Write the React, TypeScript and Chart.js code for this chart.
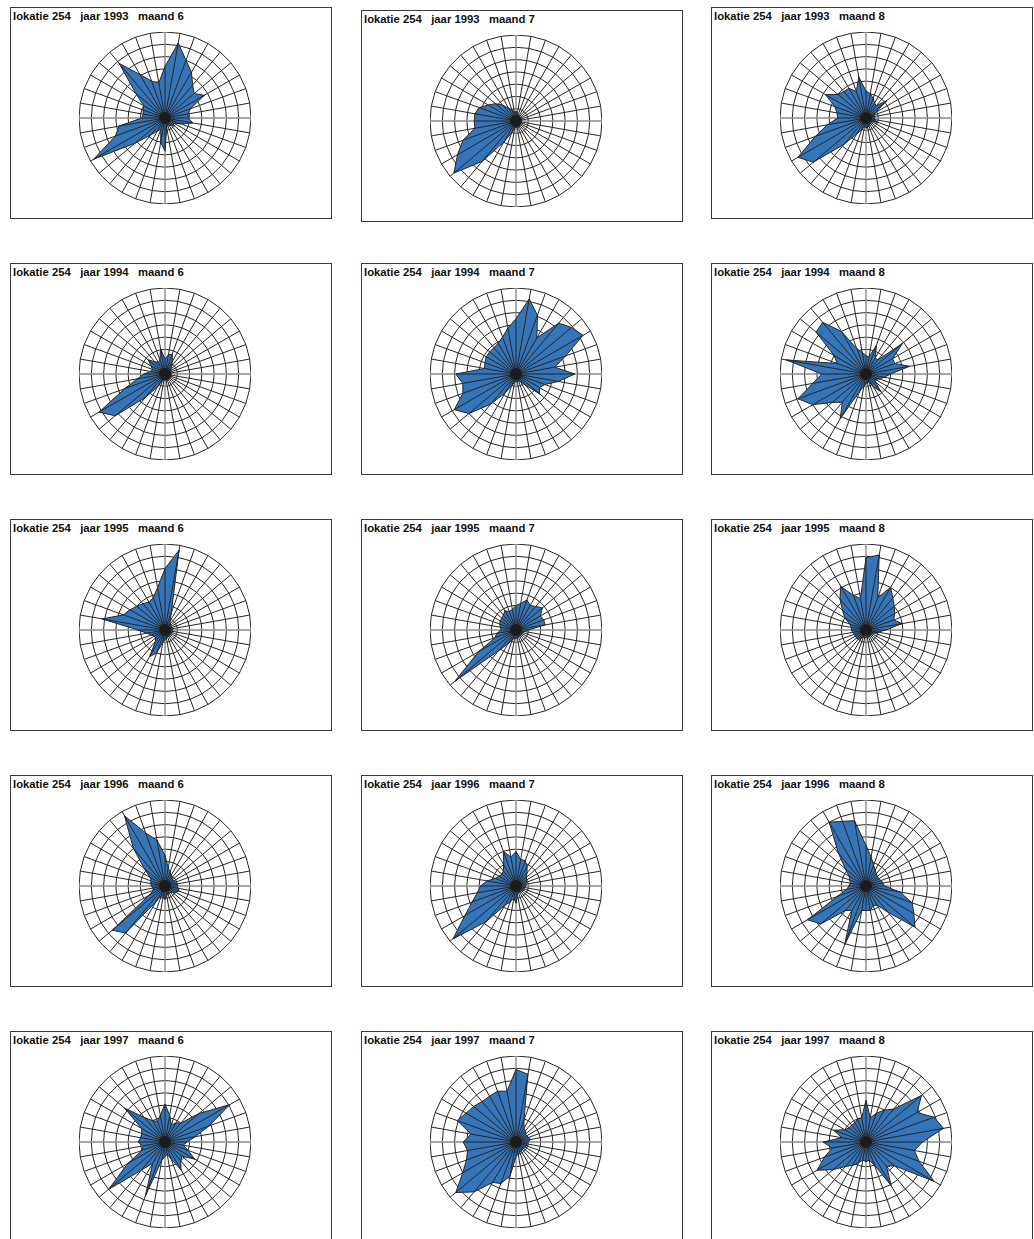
import React, { useEffect, useRef } from 'react';
import { Chart, registerables } from 'chart.js';

Chart.register(...registerables);

// ---------- data ----------
const locationId = 254;
const years = [1993, 1994, 1995, 1996, 1997];
const months = [6, 7, 8];
const directions = [
  '0', '10', '20', '30', '40', '50', '60', '70', '80', '90', '100', '110',
  '120', '130', '140', '150', '160', '170', '180', '190', '200', '210', '220', '230',
  '240', '250', '260', '270', '280', '290', '300', '310', '320', '330', '340', '350',
];

const y1993m6 = [4.2, 6.2, 5.0, 4.3, 3.5, 3.1, 3.7, 2.2, 1.9, 1.9, 2.3, 1.4, 0.8, 0.9, 0.8, 0.7, 0.6, 0.8, 2.7, 2.0, 1.0, 1.2, 1.8, 3.2, 6.7, 4.3, 3.8, 1.9, 1.8, 1.9, 2.0, 3.1, 5.8, 4.1, 3.2, 2.9];
const y1993m7 = [0.8, 0.6, 0.5, 0.5, 0.4, 0.4, 0.4, 0.4, 0.4, 0.4, 0.4, 0.4, 0.4, 0.4, 0.4, 0.5, 0.5, 0.5, 0.5, 0.6, 1.0, 2.0, 4.3, 6.6, 5.5, 4.6, 3.4, 3.4, 3.4, 3.2, 2.6, 2.2, 1.7, 1.2, 1.0, 0.7];
const y1993m8 = [2.2, 2.0, 1.7, 1.4, 1.3, 2.2, 0.9, 0.7, 0.7, 0.7, 0.7, 1.0, 0.6, 0.6, 0.6, 0.6, 0.7, 0.8, 0.8, 0.7, 1.0, 1.5, 2.8, 5.6, 6.4, 4.4, 3.2, 2.3, 2.4, 2.7, 3.8, 3.0, 2.8, 2.8, 2.3, 3.4];
const y1994m6 = [1.2, 1.6, 1.7, 1.2, 0.8, 0.7, 0.5, 0.5, 0.5, 0.5, 0.5, 0.5, 0.5, 0.5, 0.5, 0.5, 0.5, 0.5, 0.5, 0.5, 0.5, 1.2, 2.5, 5.3, 6.2, 3.5, 2.3, 1.7, 1.2, 1.1, 1.3, 1.8, 1.3, 1.1, 1.2, 2.1];
const y1994m7 = [4.5, 6.2, 5.1, 3.4, 5.4, 5.9, 6.3, 4.3, 3.2, 4.8, 3.5, 2.5, 2.2, 2.5, 1.2, 0.7, 0.6, 0.6, 0.6, 0.7, 1.0, 1.8, 3.2, 5.0, 5.8, 4.6, 4.4, 4.9, 2.6, 2.7, 2.8, 2.8, 2.8, 2.9, 3.2, 3.8];
const y1994m8 = [1.5, 1.4, 2.5, 1.5, 1.5, 3.9, 2.5, 2.5, 3.6, 2.0, 1.5, 1.2, 0.8, 1.0, 1.9, 1.2, 0.7, 0.7, 0.8, 1.0, 1.5, 4.2, 3.0, 3.6, 5.0, 5.9, 4.4, 3.6, 6.6, 2.5, 3.0, 5.3, 5.5, 4.0, 2.2, 1.8];
const y1995m6 = [5.0, 6.6, 1.5, 0.8, 0.7, 0.6, 0.6, 0.6, 0.6, 0.6, 0.6, 0.6, 0.6, 0.6, 0.6, 0.6, 0.6, 0.6, 0.8, 1.0, 2.0, 2.5, 1.2, 1.0, 1.0, 1.2, 1.5, 2.2, 5.2, 3.6, 3.3, 3.0, 2.8, 2.6, 2.8, 3.5];
const y1995m7 = [2.0, 2.2, 2.6, 2.3, 2.5, 2.8, 2.3, 2.4, 2.4, 1.0, 0.7, 0.6, 0.6, 0.6, 0.6, 0.6, 0.6, 0.6, 0.7, 0.7, 0.8, 1.3, 2.2, 6.5, 3.5, 1.8, 1.6, 1.2, 1.3, 1.4, 1.5, 1.5, 1.6, 1.8, 1.6, 1.7];
const y1995m8 = [5.9, 6.2, 2.8, 4.0, 3.4, 3.0, 2.7, 2.4, 3.0, 1.6, 1.0, 0.7, 0.6, 0.6, 0.6, 0.6, 0.6, 0.6, 0.6, 0.6, 0.6, 0.8, 1.0, 1.0, 1.0, 1.0, 1.1, 1.2, 1.2, 1.4, 2.0, 2.5, 3.3, 4.1, 3.0, 2.6];
const y1996m6 = [2.5, 1.5, 1.2, 1.0, 0.9, 0.8, 0.8, 0.9, 1.0, 1.0, 1.1, 1.2, 1.0, 0.8, 0.7, 0.7, 0.7, 0.8, 1.1, 0.9, 0.8, 1.5, 5.0, 5.6, 1.5, 1.0, 1.0, 1.1, 1.2, 1.2, 1.4, 2.2, 4.0, 6.6, 4.6, 3.8];
const y1996m7 = [2.8, 2.2, 2.2, 1.8, 1.4, 1.1, 1.0, 0.9, 0.8, 0.8, 0.7, 0.7, 0.7, 0.6, 0.6, 0.6, 0.6, 0.7, 1.4, 1.0, 1.4, 1.8, 3.8, 6.7, 4.8, 3.8, 3.2, 2.9, 2.4, 1.8, 1.6, 1.5, 1.6, 2.0, 3.0, 2.4];
const y1996m8 = [3.3, 2.4, 1.8, 1.5, 1.3, 1.2, 1.2, 1.3, 1.4, 1.5, 2.8, 4.0, 4.5, 5.2, 2.8, 1.8, 1.7, 2.0, 2.0, 2.0, 5.1, 2.3, 2.6, 4.8, 5.5, 2.5, 1.6, 1.4, 1.3, 1.4, 1.6, 2.2, 3.5, 6.0, 5.6, 5.4];
const y1997m6 = [3.1, 2.2, 1.5, 1.8, 2.0, 3.6, 6.1, 3.8, 2.5, 1.8, 1.5, 2.0, 2.8, 1.8, 2.0, 2.6, 1.5, 1.0, 1.2, 1.5, 4.7, 2.0, 3.0, 6.0, 3.5, 2.0, 1.8, 2.2, 2.0, 2.0, 2.2, 4.3, 2.6, 2.0, 1.8, 2.2];
const y1997m7 = [5.9, 5.6, 1.9, 1.3, 1.2, 1.0, 1.0, 1.1, 1.2, 1.0, 0.9, 0.9, 0.8, 0.8, 0.8, 0.8, 0.9, 1.0, 1.2, 2.8, 3.6, 3.8, 5.3, 6.4, 5.0, 4.3, 4.0, 4.3, 3.7, 5.1, 4.7, 4.5, 4.3, 4.3, 4.4, 4.2];
const y1997m8 = [3.4, 2.0, 2.5, 3.0, 3.5, 5.9, 4.8, 5.9, 6.4, 4.6, 4.0, 4.6, 6.4, 3.0, 2.6, 4.1, 2.0, 1.5, 1.6, 1.5, 1.8, 2.2, 2.6, 3.5, 4.6, 3.6, 2.8, 3.5, 2.0, 2.8, 2.0, 1.8, 1.8, 1.8, 2.0, 2.0];

const seriesGrid = [
  [y1993m6, y1993m7, y1993m8],
  [y1994m6, y1994m7, y1994m8],
  [y1995m6, y1995m7, y1995m8],
  [y1996m6, y1996m7, y1996m8],
  [y1997m6, y1997m7, y1997m8],
];

// ---------- layout / style ----------
const BLUE = 'rgb(52,117,186)';
const DARK = '#262626';
const AXIS = '#8a8a8a';
const colLefts = [10, 361, 711];
const rowTops = [7, 263, 519, 775, 1031];
const PANEL_W = 322;
const PANEL_H = 212;
const CANVAS = 172;

const spokePlugin = {
  id: 'spokes',
  afterDatasetsDraw(chart: any) {
    const scale = chart.scales.r;
    const meta = chart.getDatasetMeta(0);
    const ctx = chart.ctx;
    ctx.save();
    ctx.strokeStyle = DARK;
    ctx.lineWidth = 1;
    ctx.beginPath();
    meta.data.forEach((pt: any) => {
      ctx.moveTo(scale.xCenter, scale.yCenter);
      ctx.lineTo(pt.x, pt.y);
    });
    ctx.stroke();
    ctx.beginPath();
    ctx.arc(scale.xCenter, scale.yCenter, 6, 0, Math.PI * 2);
    ctx.fillStyle = '#1c1c1c';
    ctx.fill();
    ctx.restore();
  },
};

function RadarPanel({ values, title, left, top }: { values: number[]; title: string; left: number; top: number }) {
  const ref = useRef<HTMLCanvasElement>(null);
  useEffect(() => {
    const chart = new Chart(ref.current as HTMLCanvasElement, {
      type: 'radar',
      data: {
        labels: directions,
        datasets: [
          {
            data: values,
            backgroundColor: BLUE,
            borderColor: DARK,
            borderWidth: 1,
            pointRadius: 0,
            pointHoverRadius: 0,
            fill: true,
          },
        ],
      },
      options: {
        responsive: false,
        animation: false,
        events: [],
        layout: { padding: 0 },
        plugins: {
          legend: { display: false },
          tooltip: { enabled: false },
          title: { display: false },
        },
        scales: {
          r: {
            min: 0,
            max: 7,
            ticks: { display: false, stepSize: 1 },
            pointLabels: { display: false },
            grid: { circular: false, color: DARK, lineWidth: 1 },
            angleLines: {
              display: true,
              color: (c: any) => (c.index % 9 === 0 ? AXIS : DARK),
              lineWidth: (c: any) => (c.index % 9 === 0 ? 1.4 : 1),
            },
          },
        },
      } as any,
      plugins: [spokePlugin],
    });
    return () => chart.destroy();
  }, [values]);

  return (
    <div
      style={{
        position: 'absolute',
        left,
        top,
        width: PANEL_W,
        height: PANEL_H,
        boxSizing: 'border-box',
        border: '1px solid #3a3a3a',
        background: '#fff',
      }}
    >
      <div
        style={{
          position: 'absolute',
          left: 2,
          top: 2,
          font: 'bold 11.3px "Liberation Sans", Arial, sans-serif',
          lineHeight: '13px',
          color: '#111',
          whiteSpace: 'pre',
        }}
      >
        {title}
      </div>
      <canvas
        ref={ref}
        width={CANVAS}
        height={CANVAS}
        style={{ position: 'absolute', left: 68, top: 24, width: CANVAS, height: CANVAS }}
      />
    </div>
  );
}

export default function App() {
  const panels: React.ReactNode[] = [];
  years.forEach((yr, r) => {
    months.forEach((mo, c) => {
      const top = rowTops[r] + (r === 0 && c === 1 ? 3 : 0);
      panels.push(
        <RadarPanel
          key={`${yr}-${mo}`}
          values={seriesGrid[r][c]}
          title={`lokatie ${locationId}   jaar ${yr}   maand ${mo}`}
          left={colLefts[c]}
          top={top}
        />
      );
    });
  });
  return (
    <div
      style={{
        position: 'absolute',
        left: 0,
        top: 0,
        width: 1034,
        height: 1239,
        overflow: 'hidden',
        background: '#fff',
      }}
    >
      {panels}
    </div>
  );
}
